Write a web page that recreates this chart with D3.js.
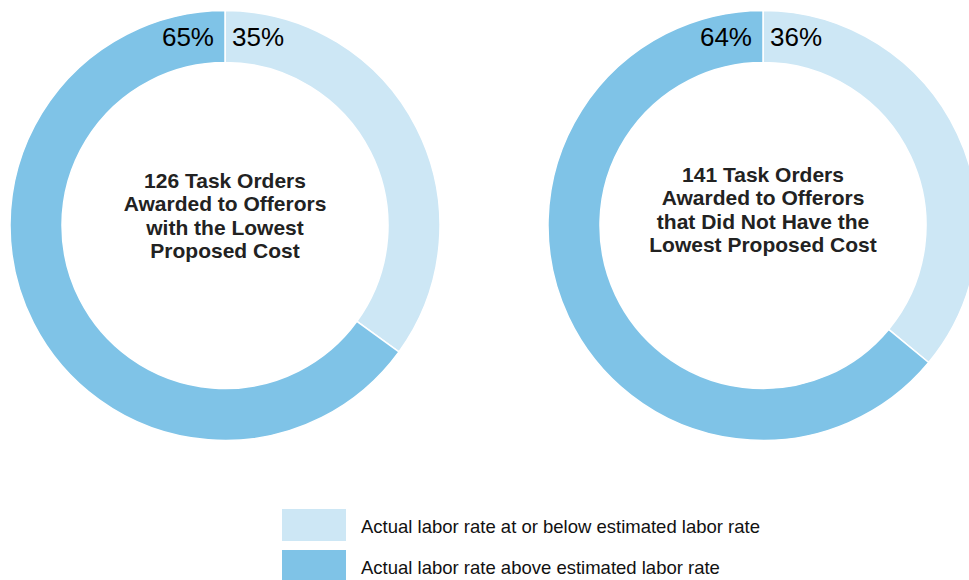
<!DOCTYPE html>
<html>
<head>
<meta charset="utf-8">
<script src="https://cdn.jsdelivr.net/npm/d3@7"></script>
<style>
  html, body { margin: 0; padding: 0; background: #fff; }
  svg { display: block; }
</style>
</head>
<body>
<svg id="chart" width="969" height="580"></svg>
<script>
// ---- data ----
const categories = ["Actual labor rate at or below estimated labor rate", "Actual labor rate above estimated labor rate"];
const leftValues = [35, 65];
const rightValues = [36, 64];
const leftTitle = ["126 Task Orders", "Awarded to Offerors", "with the Lowest", "Proposed Cost"];
const rightTitle = ["141 Task Orders", "Awarded to Offerors", "that Did Not Have the", "Lowest Proposed Cost"];
const colors = ["#cde7f5", "#7fc3e7"];

const svg = d3.select("#chart");
const color = d3.scaleOrdinal().domain(categories).range(colors);

const outerR = 215, innerR = 163;
const pie = d3.pie().sort(null).value(d => d.v);
const arc = d3.arc().innerRadius(innerR).outerRadius(outerR);

function donut(cx, cy, values, title, titleBase) {
  const g = svg.append("g").attr("transform", `translate(${cx},${cy})`);
  const data = values.map((v, i) => ({ v, cat: categories[i] }));
  g.selectAll("path").data(pie(data)).join("path")
    .attr("d", arc)
    .attr("fill", d => color(d.data.cat))
    .attr("stroke", "#fff")
    .attr("stroke-width", 1.5);

  g.append("text")
    .attr("x", -11).attr("y", 46 - cy)
    .attr("text-anchor", "end")
    .attr("font-family", "Liberation Sans, Arial, sans-serif")
    .attr("font-size", 26).attr("fill", "#000")
    .text(values[1] + "%");
  g.append("text")
    .attr("x", 7).attr("y", 46 - cy)
    .attr("text-anchor", "start")
    .attr("font-family", "Liberation Sans, Arial, sans-serif")
    .attr("font-size", 26).attr("fill", "#000")
    .text(values[0] + "%");

  const t = g.append("text")
    .attr("text-anchor", "middle")
    .attr("font-family", "Liberation Sans, Arial, sans-serif")
    .attr("font-weight", "bold")
    .attr("font-size", 21).attr("fill", "#222");
  title.forEach((line, i) => {
    t.append("tspan").attr("x", 0).attr("y", titleBase - cy + i * 23.3).text(line);
  });
}

donut(225, 225.5, leftValues, leftTitle, 188);
donut(763, 225.5, rightValues, rightTitle, 182);

// legend
const legend = svg.append("g");
const ly = d3.scaleBand().domain(categories).range([509, 582]).paddingInner(9 / 41);
categories.forEach((c) => {
  legend.append("rect")
    .attr("x", 282).attr("y", ly(c))
    .attr("width", 64).attr("height", ly.bandwidth())
    .attr("fill", color(c));
  legend.append("text")
    .attr("x", 361).attr("y", ly(c) + 23.5)
    .attr("font-family", "Liberation Sans, Arial, sans-serif")
    .attr("font-size", 18.5).attr("fill", "#111")
    .text(c);
});
</script>
</body>
</html>
